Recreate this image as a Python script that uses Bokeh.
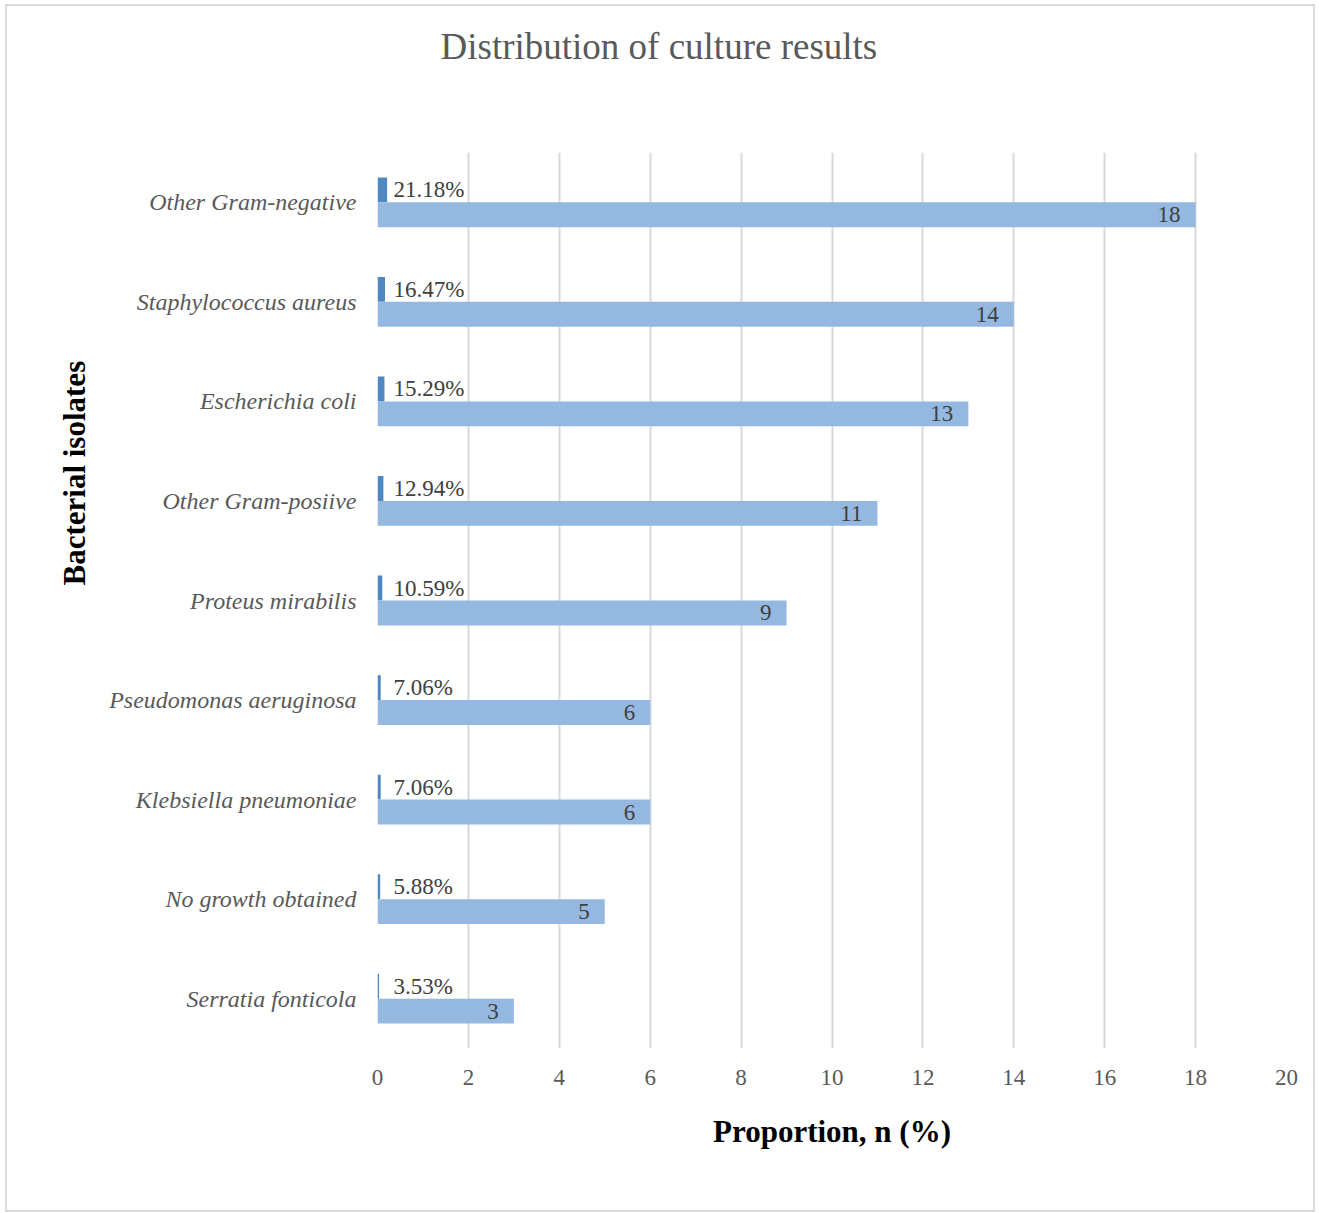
from bokeh.plotting import figure
from bokeh.models import ColumnDataSource, Range1d, FactorRange, FixedTicker, Title
from bokeh.transform import dodge
from bokeh.core.properties import value
from bokeh.embed import file_html
from bokeh.resources import INLINE

# ---- data (bottom to top) ----
categories = [
    "Serratia fonticola",
    "No growth obtained",
    "Klebsiella pneumoniae",
    "Pseudomonas aeruginosa",
    "Proteus mirabilis",
    "Other Gram-posiive",
    "Escherichia coli",
    "Staphylococcus aureus",
    "Other Gram-negative",
]
counts = [3, 5, 6, 6, 9, 11, 13, 14, 18]
percents = [3.53, 5.88, 7.06, 7.06, 10.59, 12.94, 15.29, 16.47, 21.18]
x_ticks = [0, 2, 4, 6, 8, 10, 12, 14, 16, 18, 20]

title_text = "Distribution of culture results"
x_title = "Proportion, n (%)"
y_title = "Bacterial isolates"

FONT = "Liberation Serif"
GREY = "#595959"
DARK = "#4E87C1"
LIGHT = "#95B8E0"

src = ColumnDataSource(dict(
    cat=categories,
    count=counts,
    frac=[v / 100.0 for v in percents],
    base=[0.0] * len(categories),
    pct_lbl=["%.2f%%" % v for v in percents],
    cnt_lbl=[str(c) for c in counts],
))

p = figure(
    y_range=FactorRange(factors=categories),
    x_range=Range1d(x_ticks[0], x_ticks[-1]),
    frame_width=909, frame_height=896,
    min_border_left=370, min_border_right=27,
    min_border_top=146, min_border_bottom=162,
    output_backend="svg", toolbar_location=None,
)
p.outline_line_color = None
p.background_fill_color = "white"
p.border_fill_color = "white"
# light grey chart border around the whole chart area
p.styles = {"margin-left": "7px", "margin-top": "6px",
            "outline": "2px solid #d9d9d9", "outline-offset": "0px"}

# bars
p.hbar(y=dodge("cat", 0.125, range=p.y_range), right="frac", left=0, height=0.25,
       source=src, fill_color=DARK, line_color=None)
p.hbar(y=dodge("cat", -0.125, range=p.y_range), right="count", left=0, height=0.25,
       source=src, fill_color=LIGHT, line_color=None)

# labels
p.text(x="base", y=dodge("cat", 0.125, range=p.y_range), text="pct_lbl", source=src,
       x_offset=16, text_align="left", text_baseline="middle",
       text_font=value(FONT), text_font_size="23px", text_color="#404040")
p.text(x="count", y=dodge("cat", -0.125, range=p.y_range), text="cnt_lbl", source=src,
       x_offset=-15, text_align="right", text_baseline="middle",
       text_font=value(FONT), text_font_size="23px", text_color="#404040")

# grid
p.ygrid.visible = False
p.xgrid.ticker = FixedTicker(ticks=x_ticks)
p.xgrid.grid_line_color = "#d9d9d9"
p.xgrid.grid_line_width = 2

# x axis
xa = p.xaxis[0]
xa.ticker = FixedTicker(ticks=x_ticks)
xa.axis_line_color = None
xa.major_tick_line_color = None
xa.minor_tick_line_color = None
xa.major_tick_out = 0
xa.major_label_standoff = 21
xa.major_label_text_font = FONT
xa.major_label_text_font_size = "23px"
xa.major_label_text_color = GREY
xa.axis_label = x_title
xa.axis_label_text_font = FONT
xa.axis_label_text_font_size = "31px"
xa.axis_label_text_font_style = "bold"
xa.axis_label_text_color = "black"
xa.axis_label_standoff = 26

# y axis
ya = p.yaxis[0]
ya.axis_line_color = None
ya.major_tick_line_color = None
ya.minor_tick_line_color = None
ya.major_tick_out = 0
ya.major_label_standoff = 21
ya.major_label_text_font = FONT
ya.major_label_text_font_size = "24px"
ya.major_label_text_font_style = "italic"
ya.major_label_text_color = GREY

# chart title (outermost panel)
p.title.text = title_text
p.title.align = "left"
p.title.offset = 63
p.title.standoff = 0
p.title.text_font = FONT
p.title.text_font_size = "37px"
p.title.text_font_style = "normal"
p.title.text_color = GREY

# spacer between the frame and the chart title
p.add_layout(Title(text=" ", text_font_size="1px", standoff=83), "above")

# y axis title
p.add_layout(Title(text=y_title, align="left", offset=463, standoff=30,
                   text_font=FONT, text_font_size="31px", text_font_style="bold",
                   text_color="black"), "left")

open("out.html", "w").write(file_html(p, INLINE))
